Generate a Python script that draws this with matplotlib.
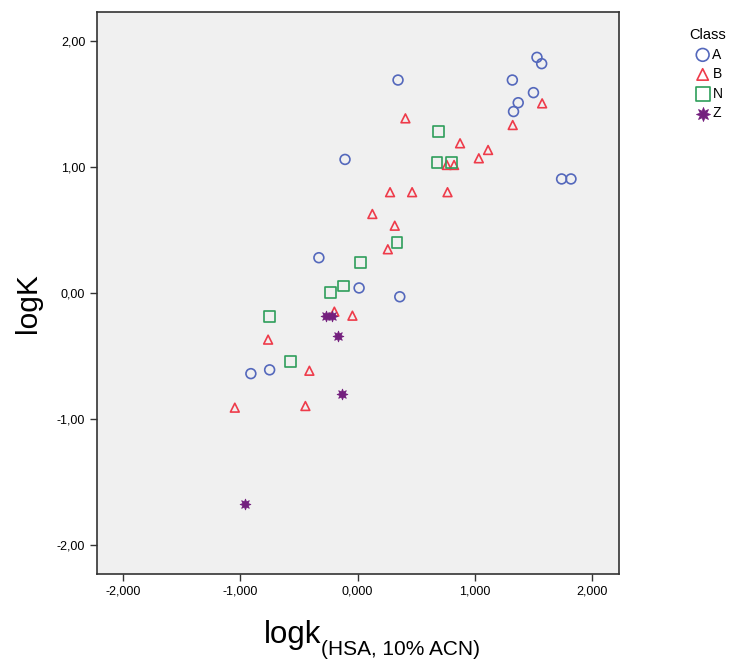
import matplotlib.pyplot as plt
from matplotlib.ticker import FuncFormatter

plt.rcParams['font.family'] = ['Liberation Sans', 'DejaVu Sans']

# class A (circles)
a_x = [0.345, 1.53, 1.57, 1.32, 1.50, 1.37, 1.33, -0.107, 1.74, 1.82, -0.33, 0.013, 0.36, -0.91, -0.75]
a_y = [1.69, 1.87, 1.82, 1.69, 1.59, 1.51, 1.44, 1.06, 0.905, 0.905, 0.28, 0.04, -0.03, -0.64, -0.61]

# class B (triangles)
b_x = [1.574, 0.408, 1.323, 0.874, 1.113, 1.034, 0.761, 0.823, 0.277, 0.465, 0.767, 0.126,
       0.317, 0.258, -0.198, -0.044, -0.763, -0.411, -0.445, -1.047]
b_y = [1.505, 1.386, 1.333, 1.188, 1.135, 1.069, 1.016, 1.016, 0.80, 0.80, 0.80, 0.627,
       0.534, 0.347, -0.148, -0.18, -0.37, -0.617, -0.897, -0.91]

# class N (squares)
n_x = [0.687, 0.678, 0.803, 0.337, 0.027, -0.121, -0.232, -0.752, -0.573]
n_y = [1.28, 1.034, 1.034, 0.40, 0.244, 0.056, 0.002, -0.188, -0.545]

# class Z (stars)
z_x = [-0.269, -0.215, -0.164, -0.135, -0.96]
z_y = [-0.183, -0.183, -0.339, -0.804, -1.675]

fig = plt.figure(figsize=(7.34, 6.59), dpi=100)
ax = fig.add_axes([0.1322, 0.129, 0.7112, 0.8528])
ax.set_facecolor('#f0f0f0')

ax.scatter(a_x, a_y, s=50, marker='o', facecolors='none', edgecolors='#5468bc', linewidths=1.2, label='A')
ax.scatter(b_x, b_y, s=40, marker='^', facecolors='none', edgecolors='#ee3b4a', linewidths=1.2, label='B')
ax.scatter(n_x, n_y, s=60, marker='s', facecolors='none', edgecolors='#2e9e5a', linewidths=1.2, label='N')
ax.scatter(z_x, z_y, s=60, marker=(8, 1, 0), color='#74207e', linewidths=0.6, label='Z')

ax.set_xlim(-2.222, 2.23)
ax.set_ylim(-2.23, 2.23)
ax.set_xticks([-2, -1, 0, 1, 2])
ax.set_yticks([-2, -1, 0, 1, 2])
ax.xaxis.set_major_formatter(FuncFormatter(lambda v, p: f'{v:.3f}'.replace('.', ',')))
ax.yaxis.set_major_formatter(FuncFormatter(lambda v, p: f'{v:.2f}'.replace('.', ',')))
ax.tick_params(direction='out', length=5, width=1, labelsize=9, color='#333333')
for s in ax.spines.values():
    s.set_color('#333333')
    s.set_linewidth(1.2)

ax.set_ylabel('logK', fontsize=21.5)
ax.yaxis.set_label_coords(-0.105, 0.482)

# x label: main part plus smaller subscript
main = fig.text(0.3597, 0.024, 'logk', fontsize=22.5, ha='left', va='baseline')
ax.annotate('(HSA, 10% ACN)', xy=(1, 0), xycoords=main, xytext=(0, -3.5),
            textcoords='offset points', fontsize=15, ha='left', va='baseline')

fig.legend(loc='upper left', bbox_to_anchor=(0.932, 0.966), frameon=False, title='Class',
           fontsize=10, title_fontsize=10.5, handletextpad=0.05, labelspacing=0.4,
           handlelength=1.3, borderaxespad=0, markerscale=1.3)

plt.savefig('out.png', dpi=100)
